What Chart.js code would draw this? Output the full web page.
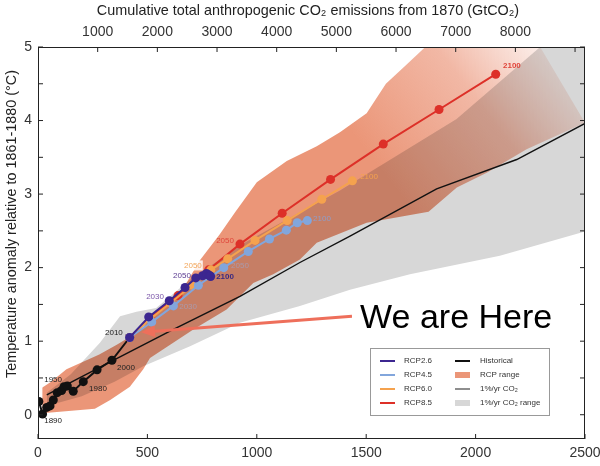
<!DOCTYPE html>
<html>
<head>
<meta charset="utf-8">
<script src="https://cdn.jsdelivr.net/npm/chart.js@4.4.0/dist/chart.umd.min.js"></script>
<style>
  html, body { margin: 0; padding: 0; background: #fff; }
  #c { display: block; }
</style>
</head>
<body>
<canvas id="c" width="600" height="466"></canvas>
<script>
// ---- data (x: cumulative GtC since 1870, y: temperature anomaly in °C) ----
const xTicks = [0, 500, 1000, 1500, 2000, 2500];
const yTicks = [0, 1, 2, 3, 4, 5];
const topTicks = [1000, 2000, 3000, 4000, 5000, 6000, 7000, 8000, 9000];

const histX = [4, 21, 40, 55, 70, 88, 108, 119, 134, 161, 207, 270, 338, 419];
const histY = [0.18, 0.01, 0.10, 0.12, 0.20, 0.30, 0.33, 0.38, 0.39, 0.32, 0.45, 0.61, 0.74, 1.05];

const rcp26X = [419, 506, 600, 672, 721, 752, 770, 780, 786, 789];
const rcp26Y = [1.05, 1.33, 1.55, 1.73, 1.86, 1.89, 1.92, 1.90, 1.89, 1.88];
const rcp45X = [419, 520, 619, 733, 849, 961, 1058, 1135, 1185, 1231];
const rcp45Y = [1.05, 1.26, 1.48, 1.76, 2.00, 2.22, 2.39, 2.51, 2.61, 2.64];
const rcp60X = [419, 512, 605, 705, 790, 867, 992, 1139, 1297, 1437];
const rcp60Y = [1.05, 1.30, 1.52, 1.76, 1.97, 2.12, 2.37, 2.64, 2.93, 3.18];
const rcp85X = [419, 512, 640, 780, 923, 1116, 1337, 1578, 1833, 2092];
const rcp85Y = [1.05, 1.32, 1.62, 1.97, 2.32, 2.74, 3.20, 3.68, 4.15, 4.63];

const pctX = [40, 337, 619, 923, 1197, 1426, 1822, 2188, 2500];
const pctY = [0.27, 0.73, 1.16, 1.61, 2.07, 2.43, 3.07, 3.47, 3.96];

// RCP range envelope
const rcpUpX = [15, 60, 130, 280, 360, 470, 540, 650, 740, 830, 900, 1000, 1137, 1274, 1380, 1502, 1590, 1680, 1770, 2295, 2500];
const rcpUpY = [0.36, 0.45, 0.62, 0.82, 0.95, 1.15, 1.42, 1.65, 2.10, 2.45, 2.75, 3.16, 3.45, 3.65, 3.84, 4.10, 4.50, 4.75, 5.0, 5.0, 3.97];
const rcpLoX = [20, 260, 330, 420, 481, 512, 710, 862, 984, 1075, 1197, 1274, 1502, 1785, 1914, 2051, 2233, 2500];
const rcpLoY = [0.02, 0.08, 0.20, 0.38, 0.62, 0.77, 1.16, 1.43, 1.79, 1.91, 2.11, 2.34, 2.61, 2.76, 3.09, 3.29, 3.61, 3.97];

// 1%/yr CO2 range envelope
const pctUpX = [40, 150, 283, 375, 450, 540, 700, 950, 1380, 1654, 1913, 2295, 2500];
const pctUpY = [0.30, 0.55, 0.98, 1.34, 1.40, 1.45, 1.85, 2.35, 3.05, 3.55, 4.02, 5.0, 5.0];
const pctLoX = [40, 200, 350, 481, 695, 923, 1197, 1426, 1700, 2111, 2500];
const pctLoY = [0.12, 0.25, 0.45, 0.66, 0.93, 1.25, 1.48, 1.70, 1.91, 2.16, 2.49];

// year labels, placed in data units
const yearLabels = [
  { t: '1890', x: 69, y: -0.08, c: '#222' },
  { t: '1950', x: 69, y: 0.48, c: '#222' },
  { t: '1980', x: 274, y: 0.35, c: '#222' },
  { t: '2000', x: 402, y: 0.64, c: '#222' },
  { t: '2010', x: 347, y: 1.12, c: '#222' },
  { t: '2030', x: 686, y: 1.47, c: 'rgba(150,175,225,0.55)' },
  { t: '2050', x: 923, y: 2.02, c: 'rgba(150,175,225,0.55)' },
  { t: '2100', x: 1298, y: 2.67, c: 'rgba(130,165,225,0.8)' },
  { t: '2030', x: 535, y: 1.61, c: '#7a55a8' },
  { t: '2050', x: 658, y: 1.89, c: '#5a3a90' },
  { t: '2100', x: 855, y: 1.88, c: '#3a2a80', bold: true },
  { t: '2050', x: 708, y: 2.03, c: '#f2a65a', bg: true },
  { t: '2050', x: 855, y: 2.36, c: '#e0453a' },
  { t: '2100', x: 1513, y: 3.23, c: '#f5a24e' },
  { t: '2100', x: 2166, y: 4.74, c: '#e0453a', bold: true }
];

const arrowTail = [1435, 1.34];
const arrowTip = [471, 1.12];
const note = { t: 'We are Here', x: 1472, y: 1.185 };

const C26 = '#3c2690', C45 = '#82a6dc', C60 = '#f5a24e', C85 = '#dd3028';
const SALMON = '#eb9678', GREY = '#d7d7d7';
const FONT = '"Liberation Sans", Arial, Helvetica, sans-serif';

const legendRows = [
  [{ n: 'RCP2.6', c: C26, k: 'line' }, { n: 'Historical', c: '#111', k: 'line' }],
  [{ n: 'RCP4.5', c: C45, k: 'line' }, { n: 'RCP range', c: SALMON, k: 'box' }],
  [{ n: 'RCP6.0', c: C60, k: 'line' }, { n: '1%/yr CO\u2082', c: '#444', k: 'line' }],
  [{ n: 'RCP8.5', c: C85, k: 'line' }, { n: '1%/yr CO\u2082 range', c: GREY, k: 'box' }]
];

const pts = (xs, ys) => xs.map((x, i) => ({ x, y: ys[i] }));

// salmon fades out toward the top right corner, like the source figure
function salmonFill(c) {
  const ch = c.chart, sx = ch.scales.x, sy = ch.scales.y;
  if (!ch.chartArea || !sx || !sy) return SALMON;
  const g = ch.ctx.createLinearGradient(sx.getPixelForValue(1550), sy.getPixelForValue(3.4),
    sx.getPixelForValue(2330), sy.getPixelForValue(5.2));
  g.addColorStop(0, SALMON);
  g.addColorStop(0.55, 'rgba(237,160,135,0.75)');
  g.addColorStop(1, 'rgba(240,175,155,0.12)');
  return g;
}

function band(label, data, color, order, fillTo) {
  return { label, data, showLine: true, borderWidth: 0, pointRadius: 0, backgroundColor: color,
    borderColor: 'rgba(0,0,0,0)', fill: fillTo === undefined ? false : { target: fillTo }, order, tension: 0 };
}
function series(label, data, color, order, r, w) {
  return { label, data, showLine: true, borderColor: color, backgroundColor: color, borderWidth: w,
    pointRadius: r, pointBorderWidth: 0, pointBackgroundColor: color, fill: false, order, tension: 0 };
}

const decor = {
  id: 'decor',
  afterDatasetDraw(chart, args) {
    const lab = chart.data.datasets[args.index].label;
    if (lab === 'rcpUp') chart.ctx.globalCompositeOperation = 'multiply';
    if (lab === 'pctUp') chart.ctx.globalCompositeOperation = 'source-over';
  },
  afterDatasetsDraw(chart) {
    const ctx = chart.ctx, a = chart.chartArea;
    const xs = chart.scales.x, ys = chart.scales.y, xt = chart.scales.x2;
    const seg = (x1, y1, x2, y2) => { ctx.beginPath(); ctx.moveTo(x1, y1); ctx.lineTo(x2, y2); ctx.stroke(); };
    ctx.save();
    ctx.globalCompositeOperation = 'source-over';

    // year labels
    ctx.textAlign = 'center'; ctx.textBaseline = 'middle';
    yearLabels.forEach(l => {
      const px = xs.getPixelForValue(l.x), py = ys.getPixelForValue(l.y);
      ctx.font = (l.bold ? 'bold ' : '') + '8px ' + FONT;
      if (l.bg) {
        const w = ctx.measureText(l.t).width;
        ctx.fillStyle = 'rgba(255,255,255,0.85)';
        ctx.fillRect(px - w / 2 - 1, py - 5, w + 2, 10);
      }
      ctx.fillStyle = l.c;
      ctx.fillText(l.t, px, py);
    });

    // arrow
    const tx = xs.getPixelForValue(arrowTip[0]), ty = ys.getPixelForValue(arrowTip[1]);
    const sx = xs.getPixelForValue(arrowTail[0]), sy = ys.getPixelForValue(arrowTail[1]);
    const ang = Math.atan2(ty - sy, tx - sx), hl = 14, hw = 6;
    const bx = tx - hl * Math.cos(ang), by = ty - hl * Math.sin(ang);
    ctx.strokeStyle = '#ee6f5b'; ctx.fillStyle = '#ee6f5b'; ctx.lineWidth = 3;
    seg(sx, sy, bx, by);
    ctx.beginPath();
    ctx.moveTo(tx, ty);
    ctx.lineTo(bx + hw * Math.sin(ang), by - hw * Math.cos(ang));
    ctx.lineTo(bx - hw * Math.sin(ang), by + hw * Math.cos(ang));
    ctx.closePath(); ctx.fill();

    // big note
    ctx.fillStyle = '#000'; ctx.font = '34px ' + FONT;
    ctx.textAlign = 'left'; ctx.textBaseline = 'alphabetic';
    ctx.fillText(note.t, xs.getPixelForValue(note.x), ys.getPixelForValue(note.y));

    // box + inward ticks
    ctx.strokeStyle = '#222'; ctx.lineWidth = 1;
    ctx.strokeRect(a.left + 0.5, a.top + 0.5, a.right - a.left - 1, a.bottom - a.top - 1);
    for (let v = 0; v <= 5; v += 0.5) {
      const p = ys.getPixelForValue(v);
      seg(a.left, p, a.left + 5, p);
      seg(a.right, p, a.right - 5, p);
    }
    xTicks.forEach(v => { const p = xs.getPixelForValue(v); seg(p, a.bottom, p, a.bottom - 5); });
    topTicks.forEach(v => { const p = xt.getPixelForValue(v); seg(p, a.top, p, a.top + 5); });

    // legend
    const L = a.left + 332, T = a.top + 301;
    ctx.fillStyle = '#fff'; ctx.fillRect(L, T, 179, 67);
    ctx.strokeStyle = '#999'; ctx.strokeRect(L + 0.5, T + 0.5, 179, 67);
    ctx.font = '8px ' + FONT; ctx.textBaseline = 'middle'; ctx.textAlign = 'left';
    legendRows.forEach((row, i) => {
      const y = T + 13 + i * 14;
      row.forEach((e, j) => {
        const x0 = L + (j ? 85 : 10);
        if (e.k === 'line') {
          ctx.strokeStyle = e.c; ctx.lineWidth = (j && i === 2) ? 1.2 : 2;
          seg(x0, y, x0 + 15, y);
        } else {
          ctx.fillStyle = e.c; ctx.fillRect(x0, y - 3, 15, 6);
        }
        ctx.fillStyle = '#333';
        ctx.fillText(e.n, x0 + (j ? 25 : 24), y);
      });
    });

    // axis titles
    ctx.fillStyle = '#222'; ctx.font = '14.4px ' + FONT;
    ctx.textAlign = 'center';
    ctx.fillText('Cumulative total anthropogenic CO\u2082 emissions from 1870 (GtCO\u2082)', 308, 11);
    ctx.translate(12, 224); ctx.rotate(-Math.PI / 2);
    ctx.fillText('Temperature anomaly relative to 1861-1880 (\u00B0C)', 0, 0);
    ctx.restore();
  }
};

const noPad = s => { s.paddingLeft = 0; s.paddingRight = 0; s.paddingTop = 0; s.paddingBottom = 0; };

const rcpUpper = band('rcpUp', pts(rcpUpX, rcpUpY), SALMON, 20, 8);
rcpUpper.backgroundColor = salmonFill;

new Chart(document.getElementById('c'), {
  type: 'scatter',
  data: {
    datasets: [
      series('RCP2.6', pts(rcp26X, rcp26Y), C26, 1, 4.5, 2),
      series('RCP4.5', pts(rcp45X, rcp45Y), C45, 2, 4.5, 2),
      series('RCP6.0', pts(rcp60X, rcp60Y), C60, 3, 4.5, 2),
      series('RCP8.5', pts(rcp85X, rcp85Y), C85, 4, 4.5, 2),
      series('Historical', pts(histX, histY), '#111', 5, 4.5, 2),
      series('1%/yr CO2', pts(pctX, pctY), '#111', 6, 0, 1.4),
      band('pctLo', pts(pctLoX, pctLoY), GREY, 17),
      band('pctUp', pts(pctUpX, pctUpY), GREY, 18, 6),
      band('rcpLo', pts(rcpLoX, rcpLoY), SALMON, 19),
      rcpUpper
    ]
  },
  options: {
    responsive: false,
    animation: false,
    devicePixelRatio: 1,
    layout: { padding: { left: 0, right: 15, top: 0, bottom: 0 } },
    plugins: { legend: { display: false }, tooltip: { enabled: false } },
    scales: {
      x: {
        type: 'linear', position: 'bottom', min: 0, max: 2500,
        afterBuildTicks: s => { s.ticks = xTicks.map(v => ({ value: v })); },
        afterFit: s => { s.height = 27; noPad(s); },
        grid: { display: false, drawTicks: false },
        border: { display: false },
        ticks: { color: '#333', font: { family: FONT, size: 14 }, padding: 6, maxRotation: 0,
          callback: v => String(v) }
      },
      x2: {
        type: 'linear', position: 'top', min: 0, max: 2500 * 44 / 12,
        afterBuildTicks: s => { s.ticks = topTicks.map(v => ({ value: v })); },
        afterFit: s => { s.height = 47; noPad(s); },
        grid: { display: false, drawTicks: false },
        border: { display: false },
        ticks: { color: '#333', font: { family: FONT, size: 14 }, padding: 6, maxRotation: 0,
          callback: v => (v < 9000 ? String(v) : '') }
      },
      y: {
        type: 'linear', min: -0.33, max: 5,
        afterBuildTicks: s => { s.ticks = yTicks.map(v => ({ value: v })); },
        afterFit: s => { s.width = 38; noPad(s); },
        grid: { display: false, drawTicks: false },
        border: { display: false },
        ticks: { color: '#333', font: { family: FONT, size: 14 }, padding: 6 }
      }
    }
  },
  plugins: [decor]
});
</script>
</body>
</html>
